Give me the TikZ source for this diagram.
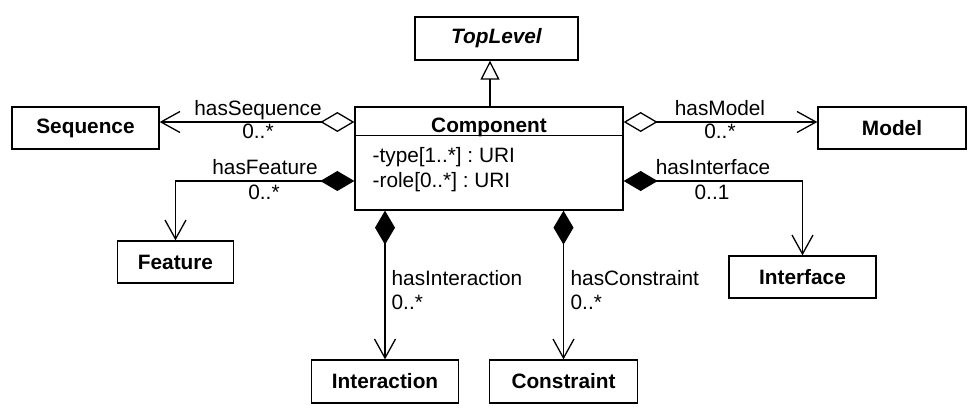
\documentclass[tikz,border=0pt]{standalone}
\usepackage{fontspec}
\setmainfont{Liberation Sans}
\usetikzlibrary{arrows.meta}
\frenchspacing
\begin{document}
\begin{tikzpicture}[x=1pt,y=-1pt,line width=1.3pt,
  font=\fontsize{20.8}{25}\selectfont,
  cls/.style={draw,minimum width=#1,minimum height=42pt,inner sep=0pt,
    font=\fontsize{20.8}{25}\selectfont\bfseries},
  lbl/.style={inner sep=0pt,anchor=base},
  lblw/.style={inner sep=0pt,anchor=base west},
  agg/.style={arrows={Diamond[fill=white,length=34pt,width=20pt]-Straight Barb[length=19pt,width=21pt]}},
  comps/.style={arrows={Diamond[fill=black,length=34pt,width=20pt]-Straight Barb[length=19pt,width=21pt]}},
  gen/.style={arrows={-Triangle[fill=white,length=19pt,width=19pt]}}]
\useasboundingbox (0,0) rectangle (978,420);
% classes
\node[cls=163pt,minimum height=43pt,font=\fontsize{20.8}{25}\selectfont\bfseries\itshape] (top) at (496.5,38.5) {TopLevel};
\node[draw,minimum width=268pt,minimum height=103pt,inner sep=0pt] (comp) at (489,158.5) {};
\draw ([yshift=-29pt]comp.north west) -- ([yshift=-29pt]comp.north east);
\node[lbl,font=\fontsize{20.8}{25}\selectfont\bfseries] (compname) at (489,132) {Component};
\node[lblw] (attr1) at (372,162) {-type[1..*] : URI};
\node[lblw] (attr2) at (372,187) {-role[0..*] : URI};
\node[cls=147pt] (seq) at (85.5,128) {Sequence};
\node[cls=148pt] (model) at (892,128) {Model};
\node[cls=116pt] (feat) at (175.5,262) {Feature};
\node[cls=147pt] (intf) at (802.5,277) {Interface};
\node[cls=147pt,minimum height=43pt] (inter) at (385,381.5) {Interaction};
\node[cls=148pt,minimum height=43pt] (cons) at (563.5,381.5) {Constraint};
\coordinate (fy) at (0,181);
% connectors
\draw[gen] (comp.north -| 490,0) -- (top.south -| 490,0);
\draw[agg] ([yshift=6pt]seq.east -| comp.west) -- ([yshift=6pt]seq.east);
\draw[agg] ([yshift=6pt]model.west -| comp.east) -- ([yshift=6pt]model.west);
\draw[comps] (comp.west |- fy) -- (feat.north |- fy) -- (feat.north);
\draw[comps] (comp.east |- fy) -- (intf.north |- fy) -- (intf.north);
\draw[comps] (inter.north |- comp.south) -- (inter.north);
\draw[comps] (cons.north |- comp.south) -- (cons.north);
% labels
\node[lbl] (l1) at (258,115) {hasSequence};
\node[lbl] (m1) at (258,139) {0..*};
\node[lbl] (l2) at (265,174) {hasFeature};
\node[lbl] (m2) at (264,199) {0..*};
\node[lbl] (l3) at (720,115) {hasModel};
\node[lbl] (m3) at (720,139) {0..*};
\node[lbl] (l4) at (713,174) {hasInterface};
\node[lbl] (m4) at (712,199) {0..1};
\node[lblw] (l5) at (391,285) {hasInteraction};
\node[lblw] (m5) at (391,309) {0..*};
\node[lblw] (l6) at (570,285) {hasConstraint};
\node[lblw] (m6) at (570,309) {0..*};
\end{tikzpicture}
\end{document}
